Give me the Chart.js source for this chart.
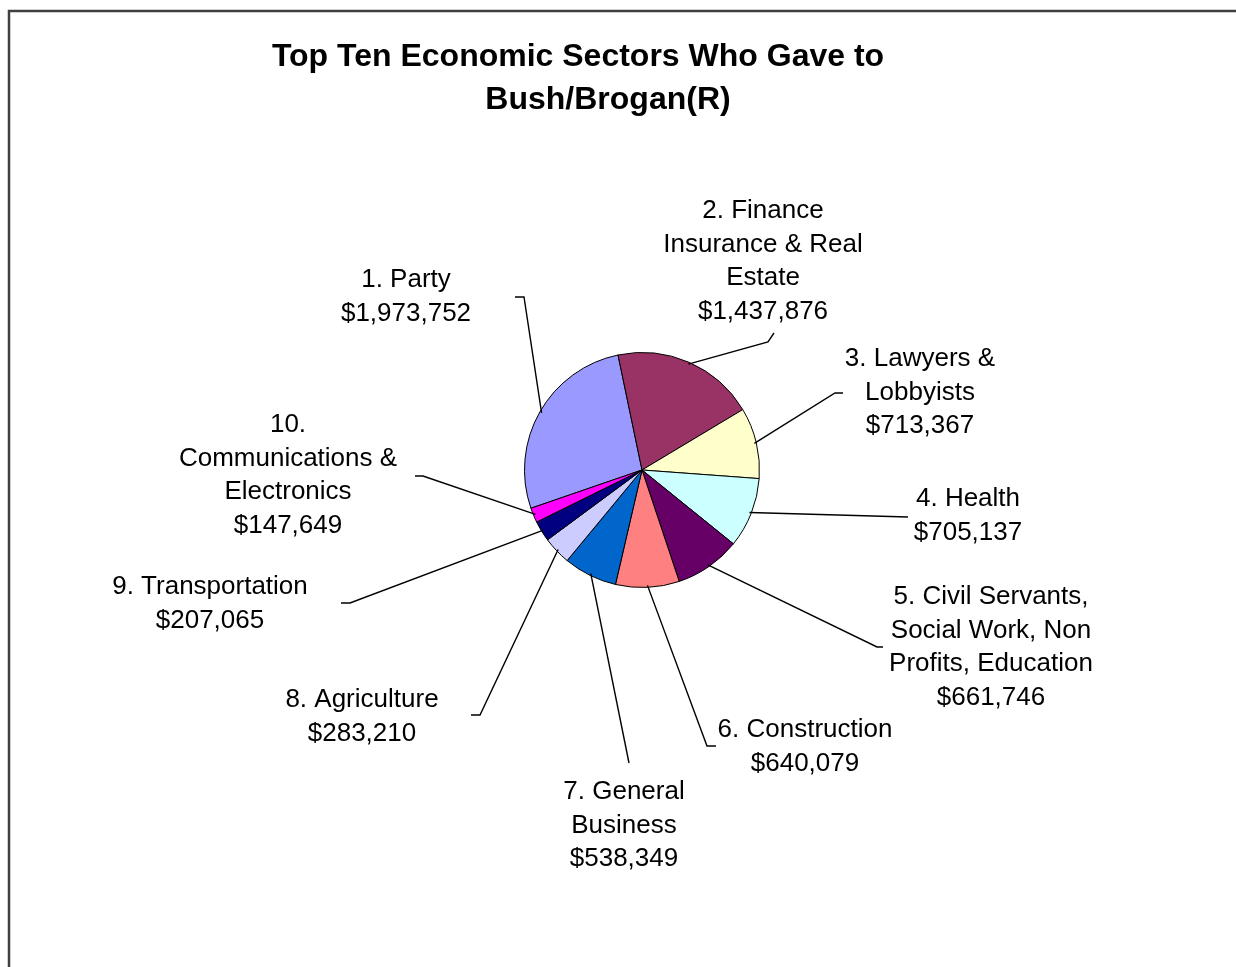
<!DOCTYPE html>
<html>
<head>
<meta charset="utf-8">
<title>Top Ten Economic Sectors Who Gave to Bush/Brogan(R)</title>
<script src="https://cdn.jsdelivr.net/npm/chart.js@4.4.1/dist/chart.umd.min.js"></script>
<style>
body{margin:0;background:#fff;}
#wrap{position:relative;width:1236px;height:967px;}
</style>
</head>
<body>
<div id="wrap"><canvas id="pie" width="1236" height="967"></canvas></div>
<script>
// data

const categories=[
["1. Party"],
["2. Finance","Insurance & Real","Estate"],
["3. Lawyers &","Lobbyists"],
["4. Health"],
["5. Civil Servants,","Social Work, Non","Profits, Education"],
["6. Construction"],
["7. General","Business"],
["8. Agriculture"],
["9. Transportation"],
["10.","Communications &","Electronics"]
];

const amounts=[1973752,1437876,713367,705137,661746,640079,538349,283210,207065,147649];

const sliceColors=["#9999FF","#993366","#FFFFCC","#CCFFFF","#660066","#FF8080","#0066CC","#CCCCFF","#000080","#FF00FF"];

const titleLines=["Top Ten Economic Sectors Who Gave to","Bush/Brogan(R)"];

// label placement, offsets from the pie centre (px)
const labelAt=[[-236,-190],[121,-259],[278,-111],[326,29],[349,127],[163,260],[-18,322],[-280,230],[-432,117],[-354,-45]];
const leaderElbow=[[-118,-173],[126,-128],[193,-77],[266,47],[235,177],[65,276],[-13,293],[-162,245],[-292,133],[-219,6]];
const leaderEnd=[[-127,-173],[132,-137],[201,-77],[266,47],[241,177],[74,276],[-13,293],[-171,245],[-301,133],[-227,6]];

function money(v){
return "$"+v.toLocaleString("en-US");
}

const frameAndLabels={
id:"frameAndLabels",
beforeDraw(chart){
const c=chart.ctx;
c.save();
c.fillStyle="#fff";
c.fillRect(0,0,chart.width,chart.height);
c.strokeStyle="#404040";
c.lineWidth=2.5;
c.beginPath();
c.moveTo(9,chart.height+5);
c.lineTo(9,11);
c.lineTo(chart.width+5,11);
c.stroke();
// title
c.fillStyle="#000";
c.font='bold 32px "Liberation Sans", Arial, sans-serif';
c.textAlign="center";
c.textBaseline="middle";
c.fillText(titleLines[0],578,57);
c.fillText(titleLines[1],608,100);
c.restore();
},
afterDatasetsDraw(chart){
const c=chart.ctx;
const arcs=chart.getDatasetMeta(0).data;
c.save();
c.strokeStyle="#000";
c.lineWidth=1.4;
c.fillStyle="#000";
c.font='26px "Liberation Sans", Arial, sans-serif';
c.textAlign="center";
c.textBaseline="middle";
arcs.forEach((arc,i)=>{
const p=arc.getProps(["x","y","startAngle","endAngle","outerRadius"],true);
const mid=(p.startAngle+p.endAngle)/2;
const sx=p.x+Math.cos(mid)*(p.outerRadius-2);
const sy=p.y+Math.sin(mid)*(p.outerRadius-2);
c.beginPath();
c.moveTo(sx,sy);
c.lineTo(p.x+leaderElbow[i][0],p.y+leaderElbow[i][1]);
c.lineTo(p.x+leaderEnd[i][0],p.y+leaderEnd[i][1]);
c.stroke();
const lines=categories[i].concat([money(amounts[i])]);
const lx=p.x+labelAt[i][0];
let ly=p.y+labelAt[i][1];
lines.forEach(t=>{
c.fillText(t,lx,ly);
ly+=33.5;
});
});
c.restore();
}
};

new Chart(document.getElementById("pie"),{
type:"pie",
data:{
labels:categories.map(l=>l.join(" ")),
datasets:[{
data:amounts,
backgroundColor:sliceColors,
borderColor:"#000",
borderWidth:1
}]
},
options:{
responsive:false,
animation:false,
rotation:-109,
layout:{padding:{left:524,right:476,top:352,bottom:379}},
plugins:{
legend:{display:false},
tooltip:{enabled:false},
title:{display:false}
}
},
plugins:[frameAndLabels]
});
</script>
</body>
</html>
